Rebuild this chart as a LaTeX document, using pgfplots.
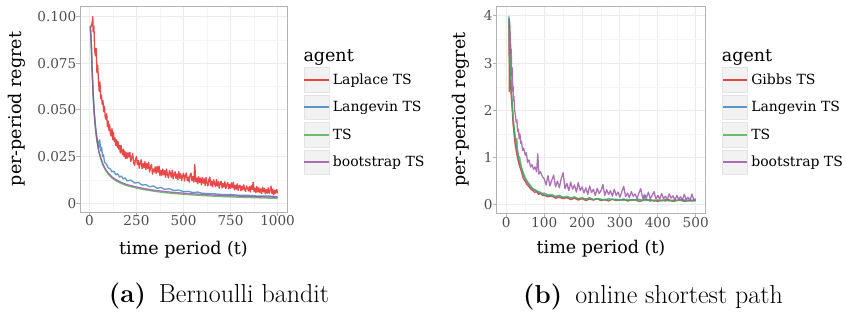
\documentclass[border=0pt]{standalone}
\usepackage{fontspec}
\usepackage{pgfplots}
\pgfplotsset{compat=1.18}
\newfontfamily\dv{DejaVu Serif}
\definecolor{cred}{HTML}{E41A1C}
\definecolor{cblue}{HTML}{377EB8}
\definecolor{cgreen}{HTML}{4DAF4A}
\definecolor{cpurple}{HTML}{984EA3}
\definecolor{gridmaj}{HTML}{EBEBEB}
\definecolor{gridmin}{HTML}{F5F5F5}
\definecolor{bordergrey}{HTML}{B3B3B3}
\definecolor{ticktext}{HTML}{4D4D4D}
\definecolor{keyfill}{HTML}{F2F2F2}
\definecolor{keyborder}{HTML}{DEDEDE}
\pgfplotsset{myax/.style={
  scale only axis,
  axis line style={bordergrey, line width=0.9bp},
  grid=both,
  major grid style={gridmaj, line width=0.9bp},
  minor grid style={gridmin, line width=0.45bp},
  tick align=outside, xtick pos=bottom, ytick pos=left,
  major tick length=3.5bp, minor tick length=0pt,
  tick style={bordergrey, line width=0.9bp},
  minor tick num=1,
  scaled ticks=false,
  /pgf/number format/assume math mode=true,
  every tick label/.append style={font=\dv\fontsize{13.6bp}{15bp}\selectfont, text=ticktext, inner sep=0pt},
  label style={font=\dv\fontsize{17.5bp}{20bp}\selectfont},
  legend cell align=left,
  legend style={draw=none, fill=none, font=\dv\fontsize{14bp}{16bp}\selectfont, anchor=north west, inner sep=0pt, outer sep=0pt, row sep=2.6bp, column sep=3bp, nodes={inner sep=0pt}},
  legend image code/.code={\path[fill=keyfill, draw=keyborder, line width=0.5bp] (0bp,-12.2bp) rectangle (25bp,12.2bp); \draw[#1, line width=2.2bp] (0.3bp,0bp) -- (24.7bp,0bp);},
  every axis plot/.append style={line width=1.3bp, line join=round, mark=none},
}}
\begin{document}
\begin{tikzpicture}
\useasboundingbox (0bp,0bp) rectangle (846bp,-312bp);
% ---------------- (a) Bernoulli bandit
\begin{axis}[myax, at={(80bp,-212bp)}, anchor=south west, width=207bp, height=206bp,
  xmin=-50, xmax=1050, ymin=-0.0047, ymax=0.1057,
  xtick={0,250,500,750,1000}, xticklabels={0,250,500,750,1000},
  ytick={0,0.025,0.05,0.075,0.1}, yticklabels={0,0.025,0.050,0.075,0.100},
  xlabel={time period (t)}, ylabel={per-period regret},
  xlabel style={at={(axis description cs:0.5,-0.2039)}, anchor=base},
  ylabel style={at={(axis description cs:-0.3043,0.5)}, anchor=center},
  legend style={at={(axis description cs:1.0787,0.7024)}},
]
\addplot[cred, draw opacity=0.8] coordinates {(5,0.094)(10,0.095)(15,0.097)(18,0.100)(20,0.092)(24,0.095)(28,0.082)(32,0.079)(36,0.083)(40,0.070)(44,0.074)(48,0.066)(52,0.060)(56,0.065)(60,0.056)(64,0.058)(68,0.053)(72,0.055)(76,0.049)(80,0.052)(84,0.046)(88,0.045)(92,0.048)(96,0.041)(100,0.044)(104,0.039)(108,0.042)(112,0.037)(116,0.036)(120,0.040)(124,0.034)(128,0.038)(132,0.033)(136,0.035)(140,0.031)(144,0.034)(148,0.030)(152,0.033)(156,0.029)(160,0.031)(164,0.027)(168,0.031)(172,0.028)(176,0.026)(180,0.029)(184,0.025)(188,0.028)(192,0.024)(196,0.027)
(200,0.0240)(205,0.0271)(210,0.0247)(215,0.0273)(220,0.0224)(225,0.0245)(230,0.0266)(235,0.0217)(240,0.0203)(245,0.0234)(250,0.0250)(255,0.0207)(260,0.0230)(265,0.0188)(270,0.0215)(275,0.0233)(280,0.0185)(285,0.0213)(290,0.0190)(295,0.0223)(300,0.0180)(305,0.0213)(310,0.0186)(315,0.0219)(320,0.0167)(325,0.0195)(330,0.0208)(335,0.0156)(340,0.0184)(345,0.0167)(350,0.0195)(355,0.0159)(360,0.0197)(365,0.0166)(370,0.0199)(375,0.0148)(380,0.0176)(385,0.0150)(390,0.0183)(395,0.0152)(400,0.0175)(405,0.0139)(410,0.0183)(415,0.0152)(420,0.0136)(425,0.0175)(430,0.0164)(435,0.0138)(440,0.0177)(445,0.0131)(450,0.0155)(455,0.0169)(460,0.0133)(465,0.0157)(470,0.0126)(475,0.0170)(480,0.0134)(485,0.0158)(490,0.0122)(495,0.0146)(500,0.0160)(505,0.0119)(510,0.0148)(515,0.0162)(520,0.0121)(525,0.0140)(530,0.0113)(535,0.0152)(540,0.0161)(545,0.0120)(550,0.0144)(555,0.0113)(560,0.0207)(565,0.0116)(570,0.0135)(575,0.0104)(580,0.0142)(585,0.0111)(590,0.0135)(595,0.0099)(600,0.0138)(605,0.0107)(610,0.0131)(615,0.0095)(620,0.0139)(625,0.0108)(630,0.0092)(635,0.0126)(640,0.0140)(645,0.0094)(650,0.0118)(655,0.0087)(660,0.0126)(665,0.0105)(670,0.0089)(675,0.0128)(680,0.0092)(685,0.0116)(690,0.0080)(695,0.0109)(700,0.0118)(705,0.0082)(710,0.0106)(715,0.0086)(720,0.0115)(725,0.0079)(730,0.0098)(735,0.0112)(740,0.0077)(745,0.0101)(750,0.0080)(755,0.0109)(760,0.0083)(765,0.0113)(770,0.0072)(775,0.0096)(780,0.0075)(785,0.0104)(790,0.0069)(795,0.0093)(800,0.0097)(805,0.0067)(810,0.0091)(815,0.0071)(820,0.0099)(825,0.0074)(830,0.0063)(835,0.0093)(840,0.0081)(845,0.0066)(850,0.0090)(855,0.0060)(860,0.0094)(865,0.0074)(870,0.0112)(875,0.0062)(880,0.0081)(885,0.0056)(890,0.0090)(895,0.0060)(900,0.0083)(905,0.0058)(910,0.0077)(915,0.0052)(920,0.0086)(925,0.0061)(930,0.0080)(935,0.0050)(940,0.0074)(945,0.0054)(950,0.0083)(955,0.0053)(960,0.0067)(965,0.0092)(970,0.0051)(975,0.0076)(980,0.0045)(985,0.0070)(990,0.0054)(995,0.0074)(1000,0.0053)};
\addlegendentry{Laplace TS}
\addplot[cblue, draw opacity=0.8] coordinates {(5,0.095)(10,0.086)(15,0.071)(20,0.059)(25,0.050)(30,0.044)(35,0.039)(40,0.035)(45,0.033)(50,0.030)(55,0.034)(60,0.028)(65,0.030)(70,0.025)(75,0.026)(80,0.022)(90,0.021)(100,0.019)(110,0.0185)(120,0.0168)(130,0.0172)(140,0.0152)(150,0.0158)(160,0.0140)(170,0.0146)(180,0.0130)(190,0.0136)(200,0.0120)(220,0.0124)(240,0.0108)(260,0.0112)(280,0.0097)(300,0.0100)(320,0.0088)(340,0.0093)(360,0.0080)(380,0.0085)(400,0.0074)(425,0.0078)(450,0.0068)(475,0.0071)(500,0.0062)(525,0.0064)(550,0.0057)(575,0.0060)(600,0.0053)(650,0.0052)(700,0.0047)(750,0.0047)(800,0.0042)(850,0.0042)(900,0.0038)(950,0.0039)(1000,0.0035)};
\addlegendentry{Langevin TS}
\addplot[cgreen, draw opacity=0.8] coordinates {(5,0.094)(8,0.089)(10,0.084)(12,0.078)(15,0.069)(18,0.062)(20,0.057)(25,0.048)(30,0.042)(35,0.037)(40,0.033)(45,0.030)(50,0.0274)(60,0.0239)(70,0.0209)(80,0.0187)(90,0.0170)(100,0.0156)(120,0.0135)(140,0.0121)(160,0.0110)(180,0.0101)(200,0.0094)(250,0.0081)(300,0.0071)(350,0.0063)(400,0.0057)(450,0.0052)(500,0.0048)(600,0.0041)(700,0.0036)(800,0.0032)(900,0.0029)(1000,0.0026)};
\addlegendentry{TS}
\addplot[cpurple, draw opacity=0.8] coordinates {(5,0.095)(8,0.090)(10,0.085)(12,0.079)(15,0.070)(18,0.063)(20,0.058)(25,0.049)(30,0.043)(35,0.038)(40,0.034)(45,0.031)(50,0.028)(60,0.0245)(70,0.0215)(80,0.0193)(90,0.0176)(100,0.0162)(120,0.0141)(140,0.0127)(160,0.0116)(180,0.0107)(200,0.0100)(250,0.0087)(300,0.0077)(350,0.0069)(400,0.0063)(450,0.0058)(500,0.0054)(600,0.0047)(700,0.0042)(800,0.0038)(900,0.0035)(1000,0.0032)};
\addlegendentry{bootstrap TS}
\end{axis}
\node[anchor=base west, inner sep=0pt, font=\dv\fontsize{17.5bp}{20bp}\selectfont] at (303.3bp,-61bp) {agent};
% ---------------- (b) online shortest path
\begin{axis}[myax, at={(496.3bp,-213.3bp)}, anchor=south west, width=209.4bp, height=207.3bp,
  xmin=-26.4, xmax=526.4, ymin=-0.18, ymax=4.21,
  xtick={0,100,200,300,400,500}, xticklabels={0,100,200,300,400,500},
  ytick={0,1,2,3,4}, yticklabels={0,1,2,3,4},
  xlabel={time period (t)}, ylabel={per-period regret},
  xlabel style={at={(axis description cs:0.5,-0.1963)}, anchor=base},
  ylabel style={at={(axis description cs:-0.1686,0.5)}, anchor=center},
  legend style={at={(axis description cs:1.0764,0.7043)}},
]
\addplot[cred, draw opacity=0.8] coordinates {(7,3.9)(8,2.4)(9,3.2)(11,2.7)(13,2.3)(15,2.1)(18,1.7)(20,1.55)(23,1.3)(26,1.15)(30,0.98)(35,0.82)(40,0.7)(45,0.55)(50,0.5)(55,0.42)(60,0.38)(65,0.33)(70,0.3)(75,0.26)(80,0.28)(85,0.22)(90,0.25)(95,0.2)(100,0.2)(110,0.17)(120,0.19)(130,0.14)(140,0.16)(150,0.13)(160,0.15)(170,0.11)(180,0.14)(190,0.1)(200,0.13)(210,0.09)(220,0.12)(230,0.1)(240,0.13)(250,0.09)(260,0.11)(270,0.08)(280,0.12)(290,0.09)(300,0.1)(310,0.12)(320,0.08)(330,0.1)(340,0.11)(350,0.07)(360,0.09)(370,0.12)(380,0.08)(390,0.1)(400,0.07)(410,0.1)(420,0.08)(430,0.11)(440,0.07)(450,0.09)(460,0.1)(470,0.07)(480,0.09)(490,0.08)(500,0.1)};
\addlegendentry{Gibbs TS}
\addplot[cblue, draw opacity=0.8] coordinates {(7,3.95)(9,3.1)(11,2.9)(13,2.4)(15,2.2)(18,1.85)(20,1.6)(23,1.45)(26,1.3)(30,1.1)(35,0.9)(40,0.78)(45,0.62)(50,0.55)(55,0.48)(60,0.42)(65,0.37)(70,0.33)(75,0.3)(80,0.29)(85,0.26)(90,0.24)(95,0.23)(100,0.21)(110,0.2)(120,0.18)(130,0.17)(140,0.19)(150,0.15)(160,0.16)(170,0.14)(180,0.15)(190,0.13)(200,0.14)(210,0.12)(220,0.15)(230,0.11)(240,0.13)(250,0.12)(260,0.1)(270,0.13)(280,0.11)(290,0.12)(300,0.1)(310,0.12)(320,0.09)(330,0.11)(340,0.1)(350,0.12)(360,0.09)(365,0.17)(370,0.1)(380,0.11)(390,0.08)(400,0.1)(410,0.09)(420,0.11)(430,0.08)(440,0.1)(450,0.09)(460,0.11)(470,0.08)(480,0.1)(490,0.09)(500,0.08)};
\addlegendentry{Langevin TS}
\addplot[cgreen, draw opacity=0.8] coordinates {(7,4.0)(8,3.0)(9,3.4)(11,2.85)(13,2.5)(15,2.2)(18,1.85)(20,1.7)(23,1.5)(26,1.3)(28,1.4)(30,1.15)(33,1.0)(35,1.02)(40,0.8)(45,0.68)(50,0.58)(55,0.5)(60,0.45)(65,0.4)(70,0.35)(75,0.33)(80,0.3)(85,0.28)(90,0.27)(95,0.24)(100,0.25)(110,0.21)(120,0.22)(130,0.18)(140,0.2)(150,0.16)(160,0.18)(170,0.15)(180,0.17)(190,0.13)(200,0.15)(210,0.12)(220,0.14)(230,0.11)(240,0.13)(250,0.1)(260,0.12)(270,0.1)(280,0.12)(290,0.09)(300,0.11)(310,0.09)(320,0.12)(330,0.09)(340,0.11)(350,0.08)(360,0.1)(370,0.09)(380,0.11)(390,0.08)(400,0.1)(410,0.08)(420,0.11)(430,0.09)(440,0.08)(450,0.1)(460,0.09)(470,0.11)(480,0.08)(490,0.1)(500,0.09)};
\addlegendentry{TS}
\addplot[cpurple, draw opacity=0.8] coordinates {(7,3.95)(9,3.85)(11,3.5)(12,3.2)(13,3.3)(14,2.9)(15,2.7)(16,2.9)(17,2.4)(18,2.5)(19,2.2)(20,2.3)(22,2.0)(24,1.9)(26,1.75)(28,1.8)(30,1.55)(32,1.6)(34,1.4)(36,1.5)(38,1.3)(40,1.35)(43,1.15)(46,1.2)(50,1.05)(53,1.1)(56,0.9)(60,0.95)(64,0.8)(68,0.85)(72,0.75)(76,0.8)(80,0.7)(83,1.08)(86,0.65)(90,0.7)(95,0.6)(100,0.55)(105,0.42)(110,0.62)(115,0.4)(120,0.52)(125,0.63)(130,0.38)(135,0.5)(140,0.36)(145,0.56)(150,0.68)(155,0.34)(160,0.45)(165,0.3)(170,0.48)(175,0.33)(180,0.42)(185,0.27)(190,0.47)(195,0.3)(200,0.38)(205,0.25)(210,0.36)(215,0.22)(220,0.4)(225,0.26)(230,0.33)(235,0.2)(240,0.35)(245,0.24)(250,0.3)(255,0.43)(260,0.2)(265,0.32)(270,0.22)(275,0.3)(280,0.18)(285,0.33)(290,0.2)(295,0.27)(300,0.16)(305,0.28)(310,0.39)(315,0.17)(320,0.25)(325,0.15)(330,0.28)(335,0.18)(340,0.23)(345,0.13)(350,0.25)(355,0.34)(360,0.14)(365,0.22)(370,0.15)(375,0.27)(380,0.13)(385,0.2)(390,0.28)(395,0.12)(400,0.2)(405,0.12)(410,0.24)(415,0.13)(420,0.18)(425,0.11)(430,0.23)(435,0.14)(440,0.19)(445,0.1)(450,0.2)(455,0.12)(460,0.17)(465,0.1)(470,0.22)(475,0.11)(480,0.16)(485,0.09)(490,0.23)(495,0.1)(500,0.13)};
\addlegendentry{bootstrap TS}
\end{axis}
\node[anchor=base west, inner sep=0pt, font=\dv\fontsize{17.5bp}{20bp}\selectfont] at (721.7bp,-61bp) {agent};
% captions
\node[anchor=base, inner sep=0pt, font=\fontsize{26bp}{30bp}\selectfont] at (219bp,-302bp) {\textbf{(a)}\hspace{0.5em}Bernoulli bandit};
\node[anchor=base, inner sep=0pt, font=\fontsize{26bp}{30bp}\selectfont] at (653bp,-303bp) {\textbf{(b)}\hspace{0.5em}online shortest path};
\end{tikzpicture}
\end{document}
